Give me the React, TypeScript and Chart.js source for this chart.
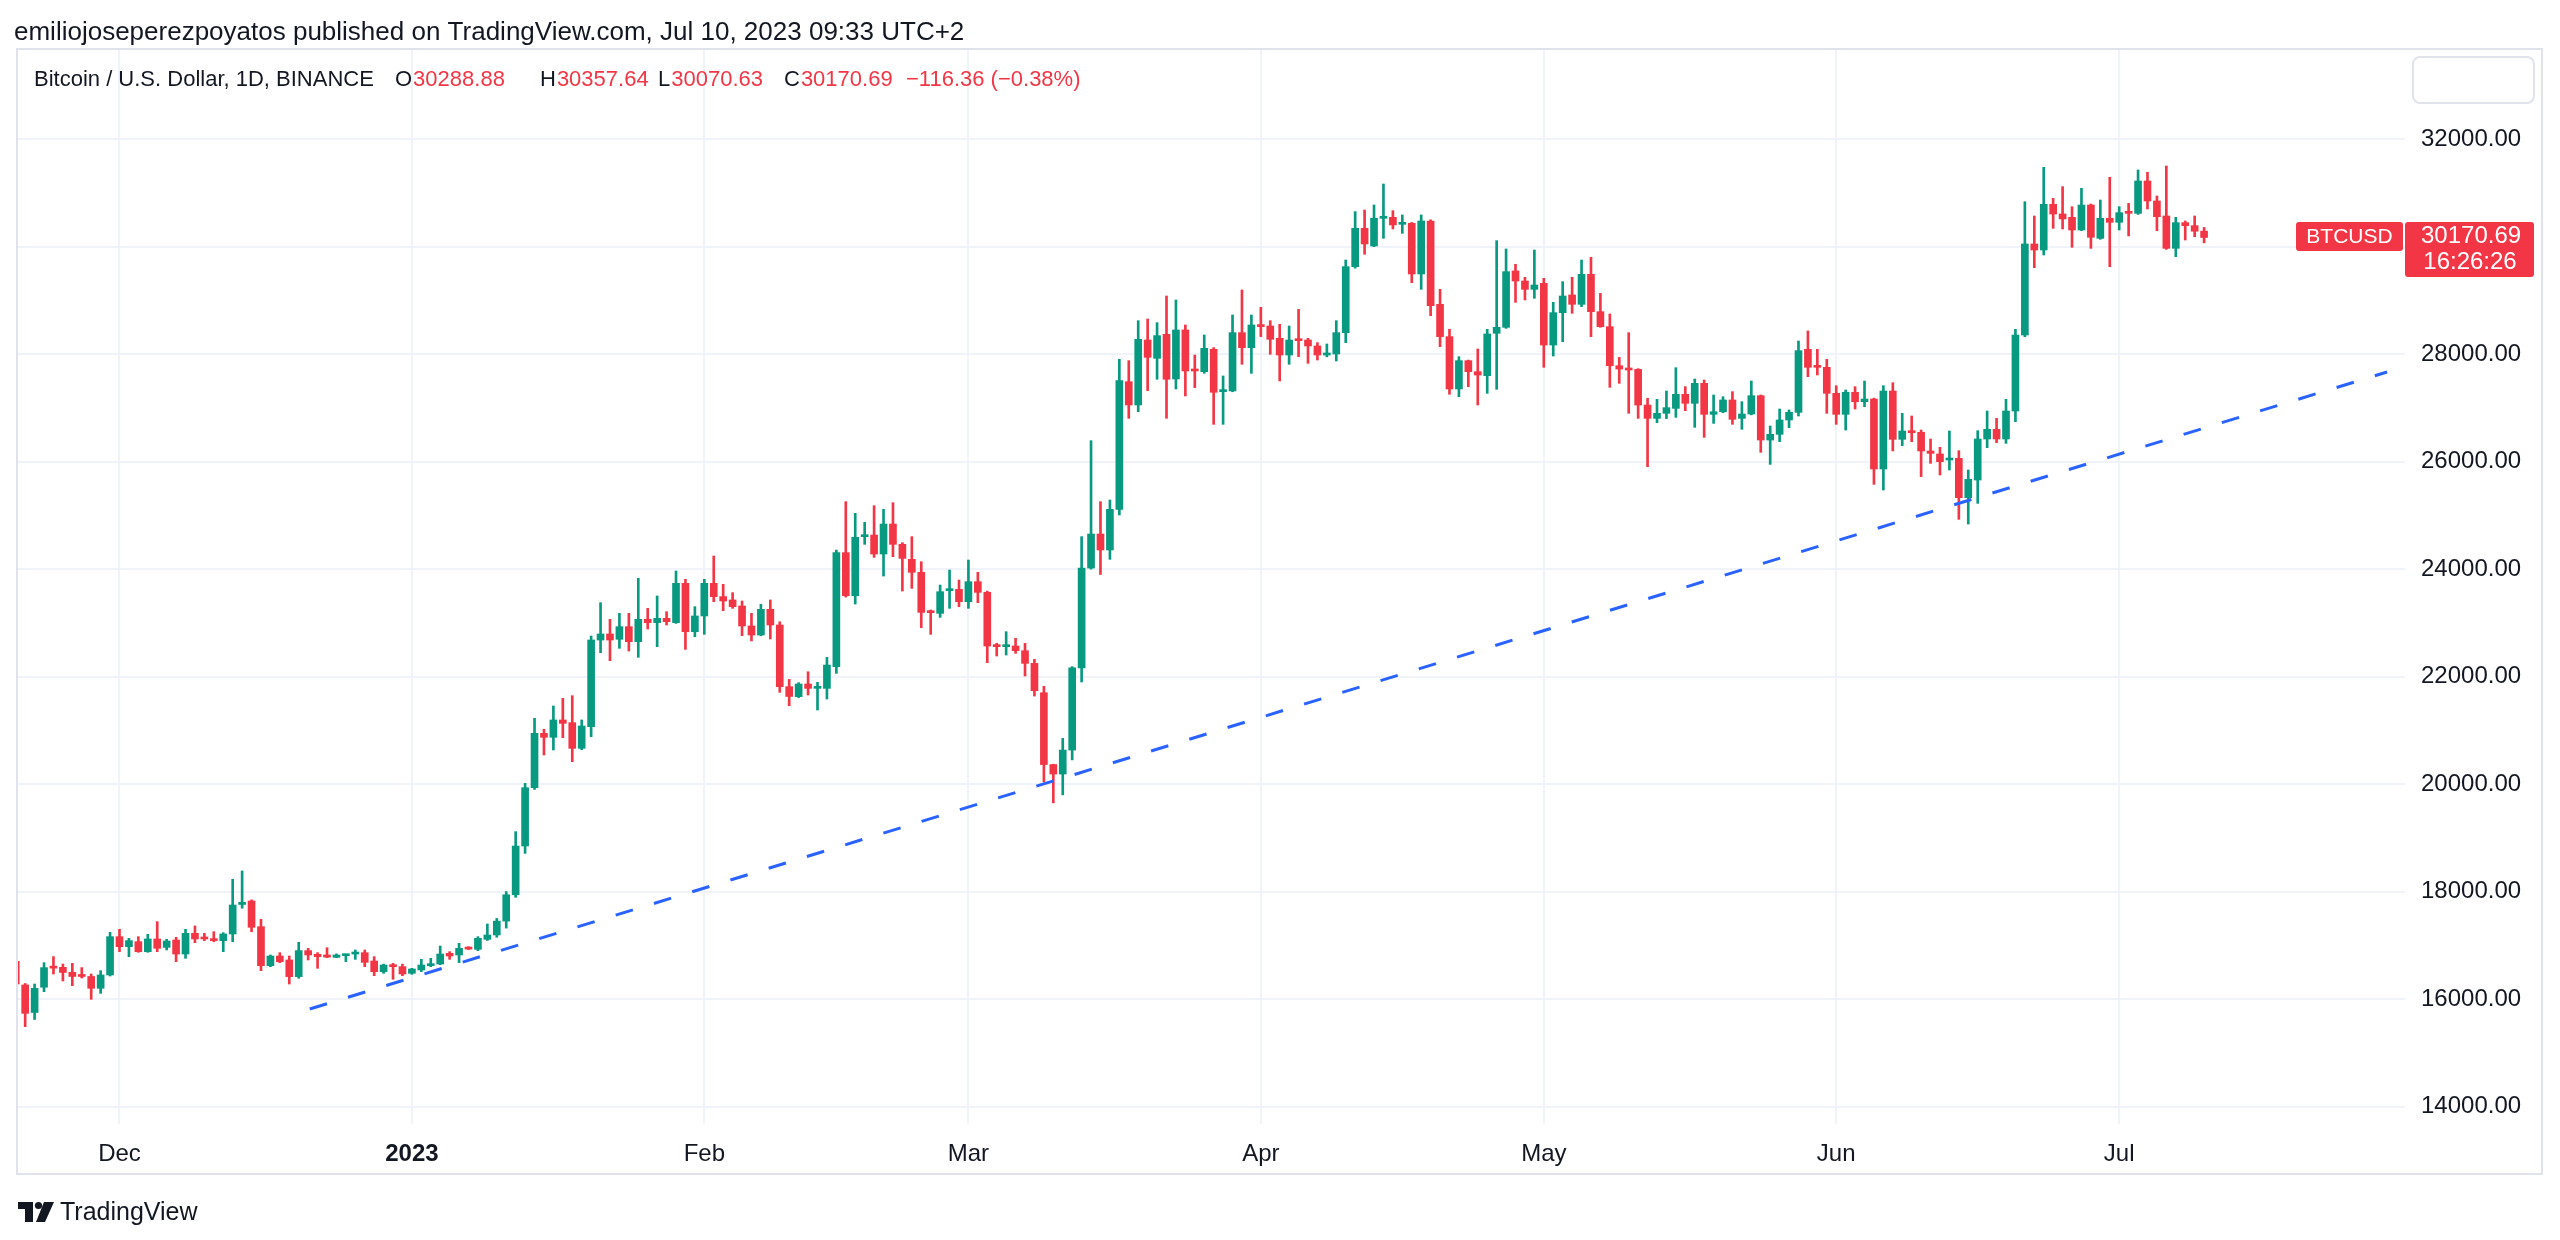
import { useEffect, useRef } from "react";
import { Chart, registerables } from "chart.js";

Chart.register(...registerables);

// ---------------- DATA ----------------
const START_DATE = "2022-11-20"; // first (partly hidden) daily candle

// Daily OHLC, one value per day from 2022-11-20 to 2023-07-10
const openP = [
  // Nov 20-30
  16700, 16262, 15750, 16220, 16600, 16590, 16497, 16445, 16420, 16200, 16448,
  // Dec
  17161, 16975, 17068, 16882, 17118, 16962, 17099, 16838, 17223, 17149, 17118, 17087, 17211, 17760, 17825, 17347,
  16621, 16801, 16727, 16417, 16901, 16832, 16820, 16776, 16807, 16838, 16863, 16708, 16509, 16634, 16603,
  // Jan
  16479, 16541, 16621, 16652, 16851, 16820, 16956, 16925, 17111, 17192, 17450, 17940, 18848, 19933, 20944, 20870,
  21193, 21143, 20665, 21068, 22681, 22793, 22694, 22929, 22650, 23066, 23004, 23084, 23004, 23736, 22836,
  // Feb
  23128, 23736, 23488, 23426, 23314, 22942, 22774, 23252, 22960, 21813, 21626, 21862, 21781, 21781, 22184, 24306,
  23505, 24603, 24634, 24281, 24839, 24461, 24182, 23940, 23227, 23177, 23599, 23623,
  // Mar
  23394, 23766, 23568, 22588, 22557, 22569, 22482, 22246, 21700, 20363, 20187, 20633, 22163, 24020, 24653, 24356,
  25112, 27488, 27054, 28263, 27922, 28369, 27538, 28450, 27706, 27674, 28090, 27302, 27315, 28400, 28121,
  // Apr
  28543, 28524, 28295, 27984, 28276, 28263, 28152, 27984, 28003, 28400, 29628, 30342, 30013, 30528, 30546, 30416,
  30435, 29492, 30478, 28927, 28326, 27352, 27879, 27674, 27600, 28388, 28499, 29548, 29361, 29206,
  // May
  29318, 28170, 28772, 29101, 28927, 29485, 28790, 28511, 27785, 27736, 27717, 27053, 26805, 26899, 26991, 27252,
  27085, 27457, 26880, 26929, 27147, 26805, 26886, 27227, 26402, 26508, 26775, 26917, 28090, 27779, 27755,
  // Jun
  27271, 26880, 27289, 27116, 27165, 25863, 27314, 26415, 26570, 26545, 26198, 26142, 26030, 26061, 25329, 25658,
  26421, 26601, 26421, 26942, 28356, 30050, 29938, 30788, 30608, 30546, 30310, 30775, 30155, 30527,
  // Jul 1-10
  30453, 30651, 30620, 31222, 30850, 30571, 29969, 30447, 30391, 30288.88,
];

const highP = [
  16750, 16290, 16280, 16677, 16789, 16652, 16665, 16585, 16466, 16528, 17242,
  17297, 17130, 17161, 17204, 17440, 17111, 17149, 17297, 17360, 17223, 17254, 17235, 18228, 18383, 17845, 17484,
  16820, 16863, 16801, 17056, 16944, 16863, 16956, 16840, 16830, 16913, 16913, 16789, 16650, 16665, 16650,
  16572, 16739, 16758, 16987, 16882, 17037, 16975, 17161, 17397, 17500, 18000, 19115, 20014, 21223, 21019, 21453,
  21596, 21645, 21193, 22755, 23376, 23066, 23177, 23177, 23829, 23270, 23500, 23208, 23965, 23810, 23301,
  23810, 24244, 23717, 23562, 23407, 23177, 23345, 23426, 23020, 21948, 21887, 22091, 21893, 22358, 24355, 25255,
  25038, 24870, 25180, 25112, 25236, 24492, 24604, 24138, 23240, 23704, 23983, 23797,
  24169, 23940, 23590, 22620, 22836, 22712, 22619, 22321, 21820, 20370, 20850, 22185, 24604, 26390, 25255, 25286,
  27904, 27879, 28623, 28654, 28586, 29082, 29008, 28543, 27984, 28357, 28121, 27594, 28729, 29194, 28729,
  28871, 28623, 28555, 28524, 28834, 28295, 28214, 28189, 28623, 29752, 30652, 30683, 30776, 31166, 30670, 30590,
  30450, 30590, 30500, 29206, 28462, 27953, 27890, 28096, 28462, 30112, 29957, 29672, 29430, 29938,
  29411, 28964, 29349, 29429, 29752, 29801, 29131, 28747, 27940, 28400, 27730, 27178, 27159, 27314, 27748, 27395,
  27537, 27519, 27240, 27209, 27302, 27116, 27500, 27240, 26663, 26979, 26961, 28245, 28431, 28090, 27903,
  27413, 27333, 27395, 27500, 27180, 27413, 27469, 26899, 26849, 26588, 26421, 26266, 26570, 26204, 25844, 26576,
  26942, 26806, 27159, 28462, 30837, 30571, 31476, 30900, 31117, 30744, 31086, 30794, 30868, 31290,
  30744, 30806, 31427, 31383, 30943, 31501, 30546, 30478, 30571, 30357.64,
];

const lowP = [
  16180, 15486, 15620, 16137, 16466, 16336, 16249, 16392, 15995, 16106, 16429,
  16882, 16789, 16870, 16870, 16882, 16913, 16696, 16758, 17049, 17087, 17068, 16882, 17068, 17690, 17254, 16528,
  16603, 16677, 16280, 16386, 16727, 16572, 16770, 16770, 16696, 16739, 16603, 16435, 16479, 16367, 16435,
  16460, 16510, 16603, 16640, 16739, 16677, 16920, 16900, 17090, 17150, 17320, 17893, 18711, 19900, 20541, 20634,
  20864, 20417, 20640, 20882, 22445, 22296, 22526, 22476, 22359, 22886, 22557, 22960, 22990, 22507, 22743,
  22787, 23394, 23227, 23270, 22762, 22663, 22760, 22700, 21707, 21458, 21610, 21657, 21378, 21583, 22060, 23480,
  23350, 24461, 24219, 23871, 24231, 23592, 23642, 22910, 22786, 23102, 23270, 23301,
  23270, 23375, 22259, 22383, 22401, 22432, 22011, 21638, 20042, 19650, 19800, 20450, 21900, 24000, 23900, 24182,
  25007, 26806, 26930, 27321, 27532, 26806, 27352, 27222, 27377, 27643, 26694, 26694, 27300, 27811, 27643,
  28326, 27997, 27501, 27811, 27953, 27829, 27891, 27950, 27873, 28214, 29600, 29858, 30000, 30155, 30329, 30248,
  29330, 29206, 28716, 28140, 27253, 27209, 27395, 27054, 27271, 27346, 28480, 28964, 29008, 29039,
  27755, 27965, 28232, 28760, 28883, 28325, 28500, 27382, 27457, 26899, 26805, 25906, 26725, 26800, 26824, 26948,
  26638, 26452, 26712, 26910, 26694, 26601, 26870, 26173, 25949, 26371, 26632, 26849, 27581, 27612, 26899,
  26694, 26588, 26979, 27023, 25577, 25472, 26198, 26297, 26371, 25720, 25968, 25751, 25844, 24926, 24839, 25224,
  26260, 26353, 26340, 26743, 28325, 29609, 29845, 30341, 30329, 29988, 30298, 29969, 30137, 29628,
  30310, 30199, 30600, 30701, 30298, 29950, 29814, 30124, 30186, 30070.63,
];

const closeP = [
  16280, 15734, 16200, 16584, 16575, 16495, 16420, 16420, 16200, 16448, 17161,
  16975, 17087, 16882, 17118, 16944, 17080, 16838, 17223, 17118, 17118, 17087, 17211, 17750, 17800, 17335, 16621,
  16801, 16696, 16417, 16901, 16820, 16789, 16780, 16820, 16826, 16863, 16683, 16509, 16634, 16603, 16466,
  16559, 16634, 16652, 16838, 16801, 16944, 16930, 17130, 17192, 17450, 17940, 18848, 19933, 20944, 20870, 21193,
  21130, 20665, 21081, 22681, 22793, 22681, 22929, 22650, 23066, 23004, 23084, 23022, 23736, 22836, 23128,
  23736, 23488, 23407, 23301, 22942, 22774, 23252, 22960, 21813, 21630, 21862, 21781, 21812, 22215, 24306, 23505,
  24591, 24634, 24281, 24839, 24461, 24200, 23940, 23195, 23189, 23580, 23623, 23394,
  23766, 23568, 22569, 22557, 22575, 22482, 22246, 21738, 20363, 20187, 20633, 22163, 24020, 24653, 24356, 25112,
  27507, 27054, 28276, 27941, 28344, 27532, 28450, 27687, 27687, 28108, 27290, 27321, 28400, 28121, 28543,
  28512, 28276, 27984, 28263, 28251, 28152, 27984, 28003, 28400, 29628, 30342, 30050, 30528, 30540, 30404, 30435,
  29492, 30478, 28902, 28326, 27352, 27879, 27674, 27612, 28375, 28499, 29535, 29361, 29206, 29287,
  28170, 28772, 29082, 28927, 29485, 28790, 28511, 27785, 27723, 27705, 27053, 26805, 26899, 27004, 27252, 27085,
  27457, 26880, 26929, 27147, 26787, 26886, 27227, 26402, 26508, 26775, 26917, 28065, 27755, 27755, 27271,
  26880, 27289, 27116, 27165, 25863, 27314, 26415, 26570, 26539, 26198, 26154, 25999, 26061, 25329, 25670, 26421,
  26601, 26421, 26942, 28356, 30050, 29938, 30788, 30608, 30515, 30310, 30775, 30174, 30527, 30453,
  30633, 30620, 31222, 30850, 30558, 29969, 30447, 30391, 30287.05, 30170.69,
];

// Month labels of the time axis
const monthTickDates = ["2022-12-01", "2023-01-01", "2023-02-01", "2023-03-01", "2023-04-01", "2023-05-01", "2023-06-01", "2023-07-01"];
const monthTickLabels = ["Dec", "2023", "Feb", "Mar", "Apr", "May", "Jun", "Jul"];

// Price axis tick values
const priceTicks = [14000, 16000, 18000, 20000, 22000, 24000, 26000, 28000, 30000, 32000];

// Trend line anchors (day offset from START_DATE, price)
const trendDays = [31.17, 251.4];
const trendPrices = [15815, 27668];

// ---------------- HELPERS ----------------
const dayIndex = (d: string) =>
  Math.round((Date.parse(d + "T00:00:00Z") - Date.parse(START_DATE + "T00:00:00Z")) / 86400000);

const UP = "#089981";
const DOWN = "#F23645";
const TEXT = "#131722";
const GRID = "#F0F3FA";
const FONT = "'Liberation Sans', Arial, Helvetica, sans-serif";

const X_MIN = 0.24;
const X_MAX = 253.3;
const Y_MIN = 13675;
const Y_MAX = 33678;

function fmtSigned(v: number) {
  return (v < 0 ? "\u2212" : "+") + Math.abs(v).toFixed(2);
}

const decorPlugin = {
  id: "decor",
  afterDraw(chart: any) {
    const ctx: CanvasRenderingContext2D = chart.ctx;
    const last = closeP.length - 1;
    ctx.save();

    // outer pane border
    ctx.strokeStyle = "#E0E3EB";
    ctx.lineWidth = 2;
    ctx.strokeRect(17, 49, 2542 - 17, 1174 - 49);

    // published line
    ctx.fillStyle = TEXT;
    ctx.textBaseline = "middle";
    ctx.textAlign = "left";
    ctx.font = `26px ${FONT}`;
    ctx.fillText("emiliojoseperezpoyatos published on TradingView.com, Jul 10, 2023 09:33 UTC+2", 14, 33);

    // legend line
    ctx.font = `22px ${FONT}`;
    ctx.fillStyle = TEXT;
    ctx.fillText("Bitcoin / U.S. Dollar, 1D, BINANCE", 34, 80);
    const pieces: [string, number, number][] = [
      ["O", openP[last], 395],
      ["H", highP[last], 540],
      ["L", lowP[last], 658],
      ["C", closeP[last], 784],
    ];
    const col = closeP[last] >= openP[last] ? UP : DOWN;
    pieces.forEach(([k, v, x]) => {
      ctx.fillStyle = TEXT;
      ctx.fillText(k, x, 80);
      const w = ctx.measureText(k).width;
      ctx.fillStyle = col;
      ctx.fillText(v.toFixed(2), x + w + 1, 80);
    });
    const chg = closeP[last] - closeP[last - 1];
    const pct = (chg / closeP[last - 1]) * 100;
    ctx.fillStyle = col;
    ctx.fillText(`${fmtSigned(chg)} (${fmtSigned(pct)}%)`, 906, 80);

    // empty box top-right
    ctx.strokeStyle = "#E0E3EB";
    ctx.lineWidth = 2;
    ctx.beginPath();
    (ctx as any).roundRect(2413, 57, 121, 46, 7);
    ctx.stroke();

    // last price label
    const yScale = chart.scales.y;
    const py = yScale.getPixelForValue(closeP[last]);
    ctx.fillStyle = col;
    ctx.beginPath();
    (ctx as any).roundRect(2296, py - 15.5, 107, 29, 3);
    ctx.fill();
    ctx.beginPath();
    (ctx as any).roundRect(2405, py - 15.5, 129, 55, 3);
    ctx.fill();
    ctx.fillStyle = "#FFFFFF";
    ctx.textAlign = "center";
    ctx.font = `21px ${FONT}`;
    ctx.fillText("BTCUSD", 2349.5, py);
    ctx.font = `24px ${FONT}`;
    ctx.textAlign = "left";
    ctx.fillText(closeP[last].toFixed(2), 2421, py - 1);
    ctx.textAlign = "center";
    ctx.fillText("16:26:26", 2470, py + 25);

    // TradingView logo
    ctx.fillStyle = TEXT;
    ctx.fillRect(18, 1202, 15, 7);
    ctx.fillRect(25, 1202, 8, 20);
    ctx.beginPath();
    ctx.arc(38.5, 1205.5, 3.6, 0, Math.PI * 2);
    ctx.fill();
    ctx.beginPath();
    ctx.moveTo(44, 1202);
    ctx.lineTo(54, 1202);
    ctx.lineTo(45, 1222);
    ctx.lineTo(36, 1222);
    ctx.closePath();
    ctx.fill();
    ctx.textAlign = "left";
    ctx.font = `25px ${FONT}`;
    ctx.fillText("TradingView", 60, 1213);

    ctx.restore();
  },
};

export default function App() {
  const ref = useRef<HTMLCanvasElement | null>(null);

  useEffect(() => {
    document.body.style.margin = "0";
    const canvas = ref.current;
    if (!canvas) return;

    const colors = closeP.map((c, i) => (c >= openP[i] ? UP : DOWN));
    const wicks = closeP.map((_, i) => ({ x: i, y: [lowP[i], highP[i]] }));
    const bodies = closeP.map((c, i) => ({ x: i, y: [Math.min(openP[i], c), Math.max(openP[i], c)] }));
    const trend = trendDays.map((d, i) => ({ x: d, y: trendPrices[i] }));
    const tickIdx = monthTickDates.map(dayIndex);
    const yearIdx = tickIdx[monthTickLabels.indexOf("2023")];

    Chart.defaults.font.family = FONT;

    const chart = new Chart(canvas, {
      type: "bar",
      data: {
        datasets: [
          {
            type: "line",
            data: trend,
            borderColor: "#2962FF",
            borderWidth: 3,
            borderDash: [18, 22],
            pointRadius: 0,
            fill: false,
            clip: 0,
            order: 0,
          } as any,
          {
            type: "bar",
            data: wicks,
            backgroundColor: colors,
            barThickness: 2,
            grouped: false,
            borderWidth: 0,
            clip: 0,
            order: 2,
          } as any,
          {
            type: "bar",
            data: bodies,
            backgroundColor: colors,
            barThickness: 7,
            minBarLength: 2,
            grouped: false,
            borderWidth: 0,
            clip: 0,
            order: 1,
          } as any,
        ],
      },
      options: {
        responsive: false,
        animation: false,
        devicePixelRatio: 1,
        events: [],
        layout: { padding: { left: 18, top: 49, right: 20, bottom: 61 } },
        plugins: { legend: { display: false }, tooltip: { enabled: false } },
        scales: {
          x: {
            type: "linear",
            min: X_MIN,
            max: X_MAX,
            offset: false,
            grid: { color: GRID, lineWidth: 2, drawTicks: false, offset: false },
            border: { display: false },
            afterBuildTicks: (scale: any) => {
              scale.ticks = tickIdx.map((v) => ({ value: v }));
            },
            afterFit: (scale: any) => {
              scale.height = 55;
            },
            ticks: {
              autoSkip: false,
              maxRotation: 0,
              padding: 16,
              color: TEXT,
              font: (ctx: any) => ({
                family: FONT,
                size: 24,
                weight: ctx.tick && ctx.tick.value === yearIdx ? "bold" : "normal",
              }),
              callback: (v: any) => {
                const k = tickIdx.indexOf(Number(v));
                return k >= 0 ? monthTickLabels[k] : "";
              },
            },
          },
          y: {
            type: "linear",
            position: "right",
            min: Y_MIN,
            max: Y_MAX,
            grid: { color: GRID, lineWidth: 2, drawTicks: false },
            border: { display: false },
            afterBuildTicks: (scale: any) => {
              scale.ticks = priceTicks.map((v) => ({ value: v }));
            },
            afterFit: (scale: any) => {
              scale.width = 135;
            },
            ticks: {
              padding: 16,
              color: TEXT,
              font: { family: FONT, size: 24 },
              callback: (v: any) => Number(v).toFixed(2),
            },
          },
        },
      } as any,
      plugins: [decorPlugin],
    });

    return () => chart.destroy();
  }, []);

  return (
    <div style={{ width: 2560, height: 1240, background: "#ffffff" }}>
      <canvas ref={ref} width={2560} height={1240} style={{ display: "block", width: 2560, height: 1240 }} />
    </div>
  );
}
